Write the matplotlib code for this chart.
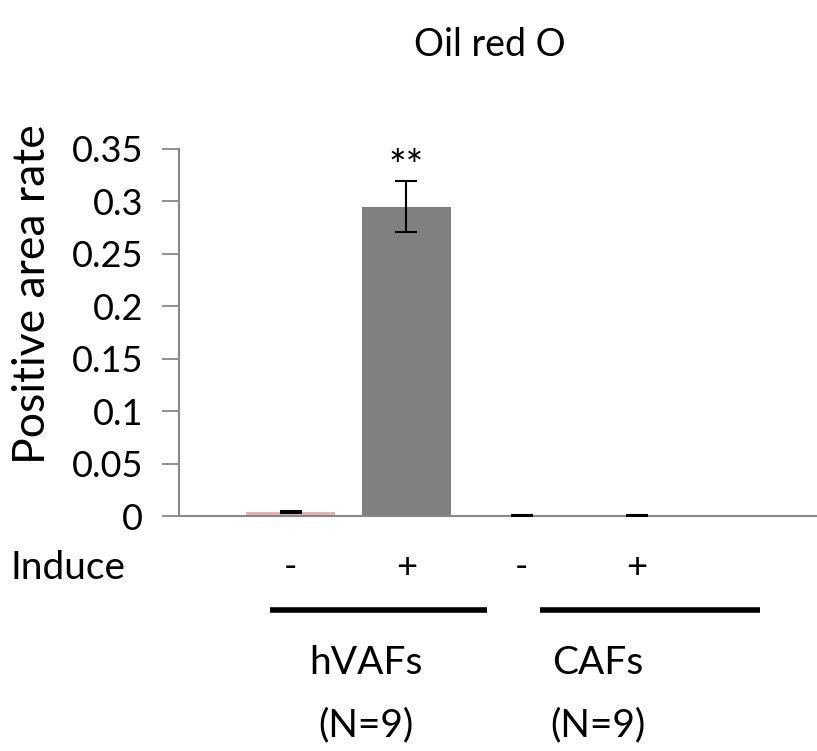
import matplotlib.pyplot as plt

plt.rcParams['font.family'] = ['Lato', 'DejaVu Sans']

groups = ["hVAFs", "CAFs"]
group_n = ["(N=9)", "(N=9)"]
induce = ["-", "+", "-", "+"]
values = [0.0038, 0.295, 0.0005, 0.0005]
errors = [0.0007, 0.0245, 0.0003, 0.0003]
colors = ["#e6b1b1", "#808080", "#808080", "#808080"]

fig = plt.figure(figsize=(8.17, 7.51), dpi=100)
ax = fig.add_axes([179 / 817, 1 - 516 / 751, 1 - 179 / 817, (516 - 149) / 751])

x = list(range(len(values)))
ax.bar(x, values, width=0.77, color=colors, zorder=2)
ax.errorbar(x, values, yerr=errors, fmt="none", ecolor="black",
            elinewidth=1.5, capsize=8, capthick=1.5, zorder=3)
# significance marker just above the error bar
ax.annotate("**", xy=(1, values[1] + errors[1]), xytext=(0, -4),
            textcoords="offset points", ha="center", va="bottom", fontsize=30)

ax.set_xlim(-0.97, 4.56)
ax.set_ylim(0, 0.35)
ax.set_yticks([0, 0.05, 0.1, 0.15, 0.2, 0.25, 0.3, 0.35])
ax.set_yticklabels(["0", "0.05", "0.1", "0.15", "0.2", "0.25", "0.3", "0.35"])
ax.tick_params(axis="y", direction="out", length=12, width=1.3, color="#888888",
               labelsize=26, pad=14)
ax.tick_params(axis="x", length=0, labelbottom=False)
for s in ["top", "right"]:
    ax.spines[s].set_visible(False)
for s in ["left", "bottom"]:
    ax.spines[s].set_color("#888888")
    ax.spines[s].set_linewidth(1.5)
ax.set_ylabel("Positive area rate", fontsize=32)
ax.yaxis.set_label_coords(-0.197, 0.605)

fig.text(490 / 817, 1 - 45 / 751, "Oil red O", ha="center", va="center", fontsize=27)

trans = ax.get_xaxis_transform()
ax.annotate("Induce", xy=(10 / 817, 1 - 568 / 751), xycoords="figure fraction",
            ha="left", va="center", fontsize=28)
for xi, lab in zip(x, induce):
    ax.text(xi, -0.14, lab, transform=trans, ha="center", va="center", fontsize=26,
            clip_on=False)
line_ext = [(-0.18, 1.7), (2.16, 4.07)]
label_x = [0.65, 2.66]
for g, n, (a, b), cx in zip(groups, group_n, line_ext, label_x):
    ax.plot([a, b], [-0.255, -0.255], transform=trans, color="black",
            lw=4, clip_on=False, solid_capstyle="butt")
    ax.text(cx, -0.4, g, transform=trans, ha="center", va="center", fontsize=28,
            clip_on=False)
    ax.text(cx, -0.57, n, transform=trans, ha="center", va="center", fontsize=28,
            clip_on=False)

fig.savefig("out.png", dpi=100)
